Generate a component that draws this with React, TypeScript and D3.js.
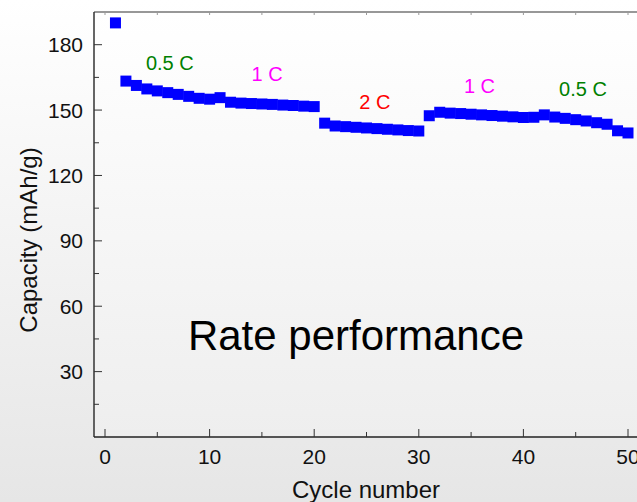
import React from 'react';
import * as d3 from 'd3';

const cycles = d3.range(1, 51);
const capacity = [
  190, 163.3, 161.3, 159.7, 158.8, 158, 157.2, 156.3, 155.4, 155,
  155.7, 153.6, 153.2, 153, 152.8, 152.6, 152.3, 152.1, 151.8, 151.6,
  144, 142.7, 142.4, 142.1, 141.8, 141.5, 141.2, 140.9, 140.6, 140.4,
  147.4, 149, 148.6, 148.4, 148.1, 147.8, 147.5, 147.2, 146.9, 146.6,
  146.7, 147.8, 146.8, 146.2, 145.6, 145, 144.2, 143.5, 140.5, 139.5,
];
const rateLabels = [
  { text: '0.5 C', cycle: 6.2, value: 168.5, color: '#008000' },
  { text: '1 C', cycle: 15.5, value: 163.5, color: '#ff00ff' },
  { text: '2 C', cycle: 25.8, value: 150.5, color: '#ff0000' },
  { text: '1 C', cycle: 35.8, value: 158, color: '#ff00ff' },
  { text: '0.5 C', cycle: 45.7, value: 156.5, color: '#008000' },
];
const yTicks = [30, 60, 90, 120, 150, 180];
const xTicks = [0, 10, 20, 30, 40, 50];

export default function App() {
  const width = 637;
  const height = 502;
  const left = 94;
  const top = 12;
  const bottom = 437;
  const right = 700;

  const x = d3.scaleLinear().domain([0, 10]).range([105, 209.6]);
  const y = d3.scaleLinear().domain([0, 195]).range([bottom, top]);
  const font = 'Liberation Sans, Arial, sans-serif';
  const size = 11;

  const minorX = d3.range(5, 60, 10);
  const minorY = d3.range(15, 195, 30);

  return (
    <div style={{ position: 'fixed', left: 0, top: 0 }}>
      <svg width={width} height={height} style={{ display: 'block' }}>
        <defs>
          <linearGradient id="bg" x1="0" y1="0" x2="0" y2="1">
            <stop offset="0" stopColor="#ffffff" />
            <stop offset="1" stopColor="#e6e6e6" />
          </linearGradient>
          <linearGradient id="plotbg" x1="0" y1="0" x2="0" y2="1">
            <stop offset="0" stopColor="#ffffff" />
            <stop offset="1" stopColor="#eeeeee" />
          </linearGradient>
        </defs>
        <rect width={width} height={height} fill="url(#bg)" />
        <rect x={left} y={top} width={right - left} height={bottom - top} fill="url(#plotbg)" />

        {/* frame */}
        <line x1={left} x2={right} y1={top} y2={top} stroke="#333" strokeWidth={1.2} />
        <line x1={left} x2={left} y1={top} y2={bottom} stroke="#333" strokeWidth={1.5} />
        <line x1={left} x2={right} y1={bottom} y2={bottom} stroke="#222" strokeWidth={1.5} />

        {/* x ticks */}
        {xTicks.map((t) => (
          <g key={`x${t}`}>
            <line x1={x(t)} x2={x(t)} y1={bottom} y2={bottom - 8} stroke="#333" />
            <line x1={x(t)} x2={x(t)} y1={top} y2={top + 3} stroke="#999" />
            <text x={x(t)} y={bottom + 27} textAnchor="middle" fontFamily={font} fontSize={21} fill="#111">
              {t}
            </text>
          </g>
        ))}
        {minorX.map((t) => (
          <g key={`xm${t}`}>
            <line x1={x(t)} x2={x(t)} y1={bottom} y2={bottom - 5} stroke="#333" />
            <line x1={x(t)} x2={x(t)} y1={top} y2={top + 3} stroke="#999" />
          </g>
        ))}

        {/* y ticks */}
        {yTicks.map((t) => (
          <g key={`y${t}`}>
            <line x1={left} x2={left + 8} y1={y(t)} y2={y(t)} stroke="#333" />
            <text x={left - 11} y={y(t) + 7.5} textAnchor="end" fontFamily={font} fontSize={21} fill="#111">
              {t}
            </text>
          </g>
        ))}
        {minorY.map((t) => (
          <line key={`ym${t}`} x1={left} x2={left + 5} y1={y(t)} y2={y(t)} stroke="#333" />
        ))}

        {/* markers */}
        {cycles.map((c, i) => (
          <rect
            key={c}
            x={x(c) - size / 2}
            y={y(capacity[i]) - size / 2}
            width={size}
            height={size}
            fill="#0000ff"
          />
        ))}

        {rateLabels.map((l, i) => (
          <text
            key={i}
            x={x(l.cycle)}
            y={y(l.value)}
            textAnchor="middle"
            fontFamily={font}
            fontSize={20}
            fill={l.color}
          >
            {l.text}
          </text>
        ))}

        <text x={356} y={350} textAnchor="middle" fontFamily={font} fontSize={42} fill="#000">
          Rate performance
        </text>

        <text x={366} y={498} textAnchor="middle" fontFamily={font} fontSize={24} fill="#111">
          Cycle number
        </text>
        <text
          transform="translate(37,240) rotate(-90)"
          textAnchor="middle"
          fontFamily={font}
          fontSize={24}
          fill="#111"
        >
          Capacity (mAh/g)
        </text>
      </svg>
    </div>
  );
}
